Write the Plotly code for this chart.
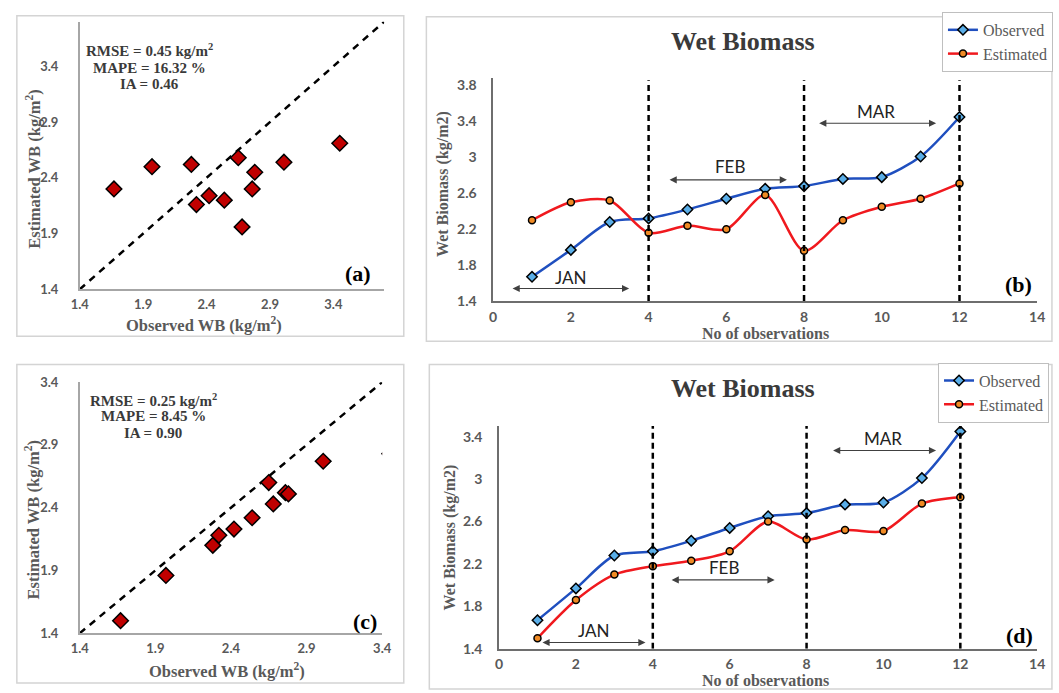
import plotly.graph_objects as go

W, H = 1059, 693

# ---------------- data ----------------
obs_no = [1, 2, 3, 4, 5, 6, 7, 8, 9, 10, 11, 12]
observed = [1.67, 1.97, 2.28, 2.32, 2.42, 2.54, 2.65, 2.68, 2.76, 2.78, 3.01, 3.45]
estimated_b = [2.30, 2.50, 2.52, 2.16, 2.24, 2.20, 2.58, 1.96, 2.30, 2.45, 2.54, 2.71]
estimated_d = [1.50, 1.86, 2.10, 2.18, 2.23, 2.32, 2.60, 2.43, 2.52, 2.51, 2.77, 2.83]

one_to_one_a = [1.4, 3.8]
one_to_one_c = [1.4, 3.4]
month_bounds = [4, 8, 12]
months = ["JAN", "FEB", "MAR"]
# arrow spans (start, end, y) and label positions (x, y) per panel
spans_b = [(0.46, 3.5, 1.54), (4.5, 7.56, 2.75), (8.35, 11.4, 3.38)]
labels_b = [(2.0, 1.66), (6.1, 2.9), (9.85, 3.51)]
spans_d = [(1.09, 3.81, 1.46), (4.45, 7.17, 2.05), (8.65, 11.37, 3.27)]
labels_d = [(2.48, 1.57), (5.84, 2.17), (10.0, 3.38)]

stats_a = ["RMSE = 0.45 kg/m<sup>2</sup>", "MAPE = 16.32 %", "IA = 0.46"]
stats_c = ["RMSE = 0.25 kg/m<sup>2</sup>", "MAPE = 8.45 %", "IA = 0.90"]

scatter_ticks = [1.4, 1.9, 2.4, 2.9, 3.4]

# ---------------- styles ----------------
SERIF = "Liberation Serif"
SANS = "Lato"
GRAY = "#595959"
DARK = "#3A3A3A"
BLUE = "#1F4FBF"
RED = "#F0191E"


def px(x):
    return x / W


def py(y):
    return 1 - y / H


fig = go.Figure()

# ---- (a) scatter ----
fig.add_trace(go.Scatter(x=one_to_one_a, y=one_to_one_a, mode="lines",
                         line=dict(color="black", width=2.5, dash="7px,6px"),
                         xaxis="x", yaxis="y", showlegend=False, hoverinfo="skip"))
fig.add_trace(go.Scatter(x=observed, y=estimated_b, mode="markers",
                         marker=dict(symbol="diamond", size=12, color="#C00000",
                                     line=dict(color="black", width=1.5)),
                         xaxis="x", yaxis="y", showlegend=False))

# ---- (c) scatter ----
fig.add_trace(go.Scatter(x=one_to_one_c, y=one_to_one_c, mode="lines",
                         line=dict(color="black", width=2.5, dash="7px,6px"),
                         xaxis="x3", yaxis="y3", showlegend=False, hoverinfo="skip"))
fig.add_trace(go.Scatter(x=observed, y=estimated_d, mode="markers",
                         marker=dict(symbol="diamond", size=12, color="#C00000",
                                     line=dict(color="black", width=1.5)),
                         xaxis="x3", yaxis="y3", showlegend=False))

# ---- (b) and (d) line charts ----
for est, xa, ya, lg in [(estimated_b, "x2", "y2", "legend"), (estimated_d, "x4", "y4", "legend2")]:
    fig.add_trace(go.Scatter(x=obs_no, y=observed, mode="lines+markers", name="Observed",
                             line=dict(color=BLUE, width=2.5, shape="spline", smoothing=0.8),
                             marker=dict(symbol="diamond", size=8, color="#5AAEE8",
                                         line=dict(color="black", width=1.5)),
                             xaxis=xa, yaxis=ya, legend=lg))
    fig.add_trace(go.Scatter(x=obs_no, y=est, mode="lines+markers", name="Estimated",
                             line=dict(color=RED, width=2.5, shape="spline", smoothing=0.8),
                             marker=dict(symbol="circle", size=7, color="#F08A24",
                                         line=dict(color="black", width=1.5)),
                             xaxis=xa, yaxis=ya, legend=lg))

tickfont_s = dict(family=SANS, size=13, color=GRAY, weight="bold")
tickfont_l = dict(family=SANS, size=14, color=GRAY, weight="bold")


def scatter_axis(dom, rng, standoff, anchor):
    return dict(domain=dom, range=rng, tickvals=scatter_ticks, showgrid=False, zeroline=False,
                showline=True, linecolor="#A6A6A6", linewidth=1.5, ticks="", anchor=anchor,
                tickfont=tickfont_s, ticklabelstandoff=standoff, fixedrange=True)


def line_axis(dom, rng, dtick, tick0, standoff, anchor):
    return dict(domain=dom, range=rng, dtick=dtick, tick0=tick0, showgrid=False, zeroline=False,
                showline=True, linecolor="#6E6E6E", linewidth=1.5, ticks="", anchor=anchor,
                tickfont=tickfont_l, ticklabelstandoff=standoff, fixedrange=True)


layout = dict(
    width=W, height=H, margin=dict(l=0, r=0, t=0, b=0),
    paper_bgcolor="white", plot_bgcolor="white",
    xaxis=scatter_axis([px(72), px(382)], [1.4, 3.8], 2, "y"),
    yaxis=scatter_axis([py(288), py(14)], [1.4, 3.8], 17, "x"),
    xaxis3=scatter_axis([px(72), px(380)], [1.4, 3.4], 2, "y3"),
    yaxis3=scatter_axis([py(640), py(383)], [1.4, 3.4], 17, "x3"),
    xaxis2=line_axis([px(493), px(1047)], [0, 14], 2, 0, 2, "y2"),
    yaxis2=line_axis([py(300), py(72)], [1.4, 3.88], 0.4, 1.4, 12, "x2"),
    xaxis4=line_axis([px(499), px(1047)], [0, 14], 2, 0, 2, "y4"),
    yaxis4=line_axis([py(656), py(428)], [1.4, 3.5], 0.4, 1.4, 12, "x4"),
    legend=dict(x=px(950), y=py(4), xanchor="left", yanchor="top",
                bordercolor="#BFBFBF", borderwidth=1, bgcolor="white",
                font=dict(family=SERIF, size=16, color=GRAY)),
    legend2=dict(x=px(946), y=py(363), xanchor="left", yanchor="top",
                 bordercolor="#BFBFBF", borderwidth=1, bgcolor="white",
                 font=dict(family=SERIF, size=16, color=GRAY)),
)
fig.update_layout(**layout)

shapes = []
# panel frames
for (x0, y0, x1, y1) in [(8, 8, 402, 336), (425, 9, 1062, 341), (8, 365, 402, 691), (428, 365, 1062, 697)]:
    shapes.append(dict(type="rect", xref="paper", yref="paper", x0=px(x0), x1=px(x1),
                       y0=py(y1), y1=py(y0), line=dict(color="#D4D4D4", width=1.5), layer="below"))
# month boundaries
for xa, ya, top in [("x2", "y2", 3.86), ("x4", "y4", 3.5)]:
    for b in month_bounds:
        shapes.append(dict(type="line", xref=xa, yref=ya, x0=b, x1=b, y0=1.4, y1=top,
                           line=dict(color="black", width=2.5, dash="6px,4px")))
fig.update_layout(shapes=shapes)

ann = []
# month arrows + labels
for xa, ya, spans, labels in [("x2", "y2", spans_b, labels_b), ("x4", "y4", spans_d, labels_d)]:
    for m, (s, e, yv), (lx, ly) in zip(months, spans, labels):
        ann.append(dict(x=e, y=yv, ax=s, ay=yv, xref=xa, yref=ya, axref=xa, ayref=ya,
                        text="", showarrow=True, arrowhead=2, startarrowhead=2,
                        arrowside="end+start", arrowsize=1.2, startarrowsize=1.2,
                        arrowwidth=1.2, arrowcolor="#404040"))
        ann.append(dict(x=lx, y=ly, xref=xa, yref=ya, text=m, showarrow=False,
                        xanchor="center", yanchor="middle",
                        font=dict(family=SANS, size=17, color="#222222")))


def pann(text, xx, yy, font, angle=0):
    ann.append(dict(x=px(xx), y=py(yy), xref="paper", yref="paper", text=text,
                    showarrow=False, xanchor="center", yanchor="middle",
                    textangle=angle, font=font))


# chart titles
for yy in [34, 390]:
    pann("<b>Wet Biomass</b>", 747, yy, dict(family=SERIF, size=26, color=DARK))

# axis titles
axs = dict(family=SERIF, size=16.5, color=GRAY)
axl = dict(family=SERIF, size=16, color=GRAY)
for xx, yy in [(199, 324), (222, 678)]:
    pann("<b>Observed WB (kg/m<sup>2</sup>)</b>", xx, yy, axs)
for xx, yy in [(25, 165), (24, 524)]:
    pann("<b>Estimated WB (kg/m<sup>2</sup>)</b>", xx, yy, axs, -90)
for yy in [333, 688]:
    pann("<b>No of observations</b>", 770, yy, axl)
for xx, yy in [(442, 180), (450, 542)]:
    pann("<b>Wet Biomass (kg/m2)</b>", xx, yy, axl, -90)

# stats text
for stats, xx, ys in [(stats_a, 143, [43, 61, 78]), (stats_c, 147, [401, 418, 435])]:
    for s, yy in zip(stats, ys):
        pann("<b>" + s + "</b>", xx, yy, dict(family=SERIF, size=15, color=DARK))

# panel letters
for t, xx, yy in [("(a)", 355, 272), ("(b)", 1028, 283), ("(c)", 363, 628), ("(d)", 1029, 642)]:
    pann("<b>" + t + "</b>", xx, yy, dict(family=SERIF, size=22, color="black"))

fig.update_layout(annotations=ann)
fig.write_html("out.html")
